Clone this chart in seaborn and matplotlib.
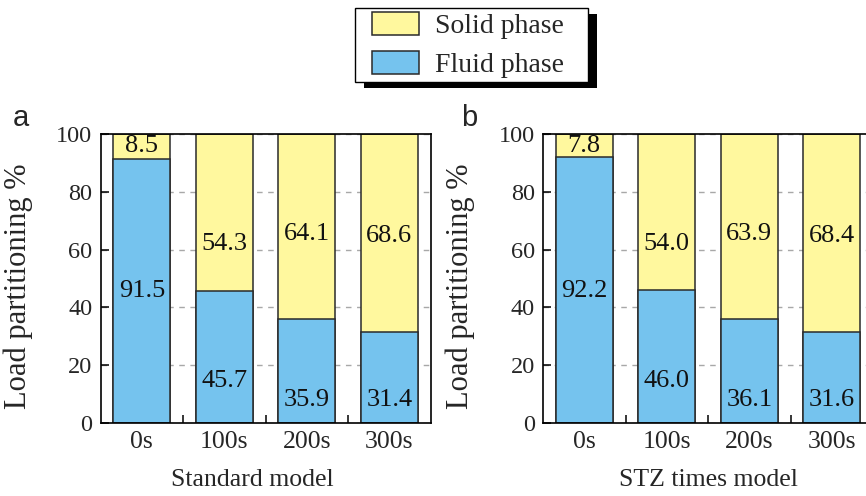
import matplotlib
matplotlib.use("Agg")
import matplotlib.pyplot as plt
from matplotlib.patches import Patch, Rectangle
from matplotlib.ticker import FixedLocator
import pandas as pd
import seaborn as sns

# ---- data -------------------------------------------------------------
times = ["0s", "100s", "200s", "300s"]
fluid_standard = [91.5, 45.7, 35.9, 31.4]
solid_standard = [8.5, 54.3, 64.1, 68.6]
fluid_stz = [92.2, 46.0, 36.1, 31.6]
solid_stz = [7.8, 54.0, 63.9, 68.4]
yticks = [0, 20, 40, 60, 80, 100]

# heights (in %) at which the numbers are printed inside the bars
fluid_text_y = [45.6, 14.4, 7.9, 7.9]
solid_text_y = [95.9, 62.0, 65.4, 64.7]

SERIF = ["Liberation Serif", "DejaVu Serif"]
SANS = ["Liberation Sans", "DejaVu Sans"]
BLUE = "#75C3EE"
YELLOW = "#FFF89E"
EDGE = "#2a2a2a"

sns.set_style("white")
plt.rcParams["font.family"] = SERIF
plt.rcParams["mathtext.fontset"] = "stix"

W, H = 866, 496
fig = plt.figure(figsize=(W / 100, H / 100), dpi=100)


def px_axes(left, top, right, bottom):
    return fig.add_axes([left / W, 1 - bottom / H, (right - left) / W, (bottom - top) / H])


def draw_panel(ax, fluid, solid, xlabel, letter, xlabel_x, letter_x):
    df = pd.DataFrame({
        "time": times,
        "fluid": fluid,
        "total": [f + s for f, s in zip(fluid, solid)],
    })
    common = dict(x="time", order=times, width=0.69, edgecolor=EDGE,
                  linewidth=1.1, ax=ax, errorbar=None, saturation=1)
    sns.barplot(data=df, y="total", color=YELLOW, **common)
    sns.barplot(data=df, y="fluid", color=BLUE, **common)

    for i, (f, s) in enumerate(zip(fluid, solid)):
        ax.text(i, fluid_text_y[i], f"{f:.1f}", ha="center", va="center",
                fontsize=19, color="#111111")
        ax.text(i, solid_text_y[i], f"{s:.1f}", ha="center", va="center",
                fontsize=19, color="#111111")

    ax.set_xlim(-0.5, 3.5)
    ax.set_ylim(0, 100)
    ax.set_yticks(yticks)
    ax.set_axisbelow(True)
    ax.yaxis.grid(True, linestyle=(0, (4, 4)), color="#a8a8a8", linewidth=1.0)
    ax.xaxis.grid(False)

    for side in ["left", "bottom", "top", "right"]:
        ax.spines[side].set_visible(True)
        ax.spines[side].set_color("black")
        ax.spines[side].set_linewidth(1.2)

    ax.tick_params(axis="y", direction="in", length=6, width=1.1, pad=6,
                   labelsize=17.5, left=True, right=False, color="black")
    ax.tick_params(axis="x", which="major", length=0, pad=6, labelsize=18.5)
    ax.xaxis.set_minor_locator(FixedLocator([0.5, 1.5, 2.5]))
    ax.tick_params(axis="x", which="minor", direction="in", length=6,
                   width=1.1, bottom=True, top=False, color="black")

    ax.set_xlabel(xlabel, fontsize=18.5)
    ax.xaxis.set_label_coords(xlabel_x, -0.158)
    ax.set_ylabel("Load partitioning %", fontsize=22)
    ax.yaxis.set_label_coords(-0.205, 0.474)
    ax.text(letter_x, 1.055, letter, transform=ax.transAxes, fontsize=21,
            family=SANS, ha="center", va="center")


ax_a = px_axes(100.6, 134, 430.6, 423)
ax_b = px_axes(543.0, 134, 873.0, 423)
draw_panel(ax_a, fluid_standard, solid_standard, "Standard model", "a", 0.459, -0.241)
draw_panel(ax_b, fluid_stz, solid_stz, "STZ times model", "b", 0.5, -0.224)

# legend box with a solid drop shadow
fx, fy, fw, fh = 355, 8, 233, 74
fig.patches.append(Rectangle(((fx + 9) / W, 1 - (fy + fh + 6) / H), fw / W, fh / H,
                             transform=fig.transFigure, facecolor="black",
                             edgecolor="none", zorder=1))
fig.patches.append(Rectangle((fx / W, 1 - (fy + fh) / H), fw / W, fh / H,
                             transform=fig.transFigure, facecolor="white",
                             edgecolor="black", linewidth=1.0, zorder=2))
handles = [Patch(facecolor=YELLOW, edgecolor=EDGE, linewidth=1.1, label="Solid phase"),
           Patch(facecolor=BLUE, edgecolor=EDGE, linewidth=1.1, label="Fluid phase")]
leg = fig.legend(handles=handles, loc="center", bbox_to_anchor=(468 / W, 1 - 45 / H),
                 frameon=False, fontsize=20, handlelength=1.69, handleheight=0.9,
                 handletextpad=0.58, labelspacing=0.4, borderpad=0.2)
leg.set_zorder(3)

fig.savefig("out.png", dpi=100)
